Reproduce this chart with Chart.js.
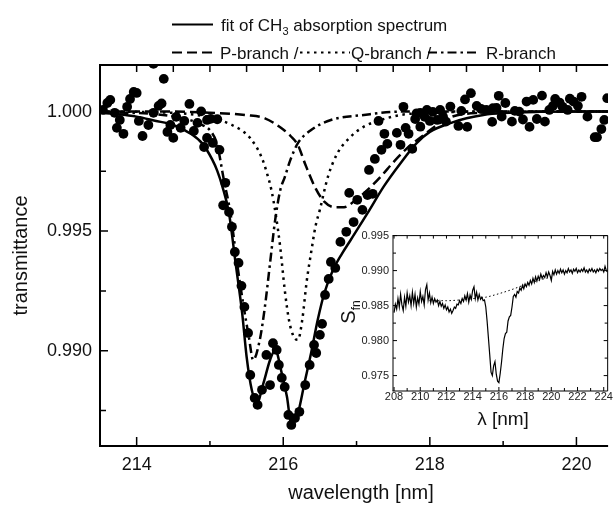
<!DOCTYPE html>
<html>
<head>
<meta charset="utf-8">
<title>CH3 absorption spectrum</title>
<script src="https://cdn.jsdelivr.net/npm/chart.js@4.4.0/dist/chart.umd.min.js"></script>
<style>
  html, body { margin: 0; padding: 0; background: #fff; }
  #wrap { position: relative; width: 613px; height: 505px; overflow: hidden; }
  #main { position: absolute; left: 0; top: 0; }
  #inset { position: absolute; left: 335px; top: 225px; }
</style>
</head>
<body>
<div id="wrap">
  <canvas id="main" width="613" height="505"></canvas>
  <canvas id="inset" width="278" height="205"></canvas>
</div>
<script>
const FONT = '"Liberation Sans", Arial, Helvetica, sans-serif';

// measured transmittance (dots)
const dotWl = [
  213.54, 213.60, 213.64, 213.70, 213.73, 213.77, 213.82, 213.87, 213.91, 213.96,
  214.00, 214.03, 214.08, 214.16, 214.23, 214.23, 214.30, 214.34, 214.37, 214.42,
  214.46, 214.50, 214.54, 214.60, 214.65, 214.72, 214.78, 214.83, 214.88, 214.92,
  214.96, 214.96, 215.01, 215.04, 215.10, 215.13, 215.18, 215.21, 215.26, 215.30,
  215.34, 215.39, 215.43, 215.47, 215.52, 215.55, 215.61, 215.65, 215.71, 215.77,
  215.82, 215.86, 215.91, 215.94, 215.98, 216.02, 216.07, 216.11, 216.16, 216.22,
  216.30, 216.36, 216.42, 216.45, 216.50, 216.53, 216.57, 216.62, 216.65, 216.71,
  216.78, 216.86, 216.90, 216.96, 217.01, 217.08, 217.15, 217.17, 217.22, 217.25,
  217.30, 217.34, 217.38, 217.42, 217.55, 217.60, 217.64, 217.67, 217.71, 217.76,
  217.80, 217.82, 217.87, 217.87, 217.93, 217.96, 218.00, 218.04, 218.10, 218.14,
  218.18, 218.22, 218.28, 218.39, 218.43, 218.48, 218.51, 218.56, 218.64, 218.70,
  218.77, 218.85, 218.86, 218.91, 218.94, 218.98, 219.03, 219.12, 219.16, 219.22,
  219.27, 219.32, 219.36, 219.41, 219.46, 219.53, 219.57, 219.63, 219.68, 219.71,
  219.77, 219.81, 219.88, 219.91, 219.96, 220.02, 220.07, 220.15, 220.25, 220.28,
  220.34, 220.38, 220.42
];
const dotT = [
  1.00007, 1.00036, 1.00049, 0.99995, 0.99932, 0.99965, 0.99907, 1.00020, 1.00053, 1.00082,
  1.00078, 0.99961, 0.99898, 0.99944, 1.00200, 0.99995, 1.00024, 1.00034, 1.00137, 0.99915,
  0.99944, 0.99890, 0.99978, 0.99932, 0.99961, 1.00032, 0.99919, 0.99953, 1.00001, 0.99852,
  0.99890, 0.99965, 0.99970, 0.99869, 0.99968, 0.99840, 0.99608, 0.99702, 0.99580, 0.99518,
  0.99413, 0.99367, 0.99271, 0.99183, 0.99074, 0.98898, 0.98802, 0.98773, 0.98836, 0.98982,
  0.98856, 0.99031, 0.99003, 0.98940, 0.98886, 0.98848, 0.98731, 0.98689, 0.98718, 0.98744,
  0.98856, 0.98940, 0.99024, 0.98990, 0.99066, 0.99112, 0.99233, 0.99300, 0.99371, 0.99346,
  0.99455, 0.99497, 0.99660, 0.99538, 0.99631, 0.99589, 0.99651, 0.99756, 0.99656, 0.99802,
  0.99961, 0.99840, 0.99907, 0.99865, 0.99911, 0.99861, 1.00020, 0.99932, 0.99907, 0.99844,
  0.99969, 0.99993, 0.99995, 0.99937, 0.99978, 1.00007, 0.99961, 0.99999, 0.99965, 1.00007,
  0.99979, 0.99958, 1.00021, 0.99940, 1.00003, 1.00051, 0.99936, 1.00077, 1.00024, 1.00011,
  1.00007, 0.99957, 1.00014, 1.00015, 1.00066, 0.99979, 1.00036, 0.99958, 1.00003, 1.00000,
  0.99967, 1.00042, 0.99936, 1.00049, 0.99969, 1.00067, 0.99958, 1.00007, 1.00024, 1.00053,
  1.00038, 1.00020, 1.00007, 1.00054, 1.00042, 1.00024, 1.00062, 0.99979, 0.99893, 0.99893,
  0.99927, 0.99965, 1.00056
];

// total fit
const fitWl = [
  213.5, 213.75, 214.0, 214.25, 214.5, 214.75, 214.9, 215.03, 215.1, 215.17,
  215.26, 215.35, 215.44, 215.5, 215.57, 215.64, 215.73, 215.82, 215.89, 215.98,
  216.05, 216.11, 216.2, 216.29, 216.38, 216.47, 216.56, 216.68, 216.8, 216.92,
  217.15, 217.37, 217.6, 217.82, 218.0, 218.27, 218.5, 218.73, 219.0, 219.5,
  220.0, 220.45
];
const fitT = [
  0.99995, 0.99989, 0.99979, 0.99962, 0.99944, 0.99905, 0.99865, 0.99800, 0.99752, 0.99686,
  0.99575, 0.99366, 0.99156, 0.98975, 0.98836, 0.98780, 0.98864, 0.98961, 0.99003, 0.98905,
  0.98808, 0.98696, 0.98738, 0.98865, 0.98990, 0.99128, 0.99240, 0.99338, 0.99405, 0.99463,
  0.99575, 0.99686, 0.99784, 0.99868, 0.99915, 0.99951, 0.99972, 0.99986, 0.99994, 0.99999,
  1.00000, 1.00000
];

// P-branch
const pWl = [213.5, 214.5, 215.0, 215.5, 215.75, 216.0, 216.1, 216.2, 216.3, 216.43,
  216.56, 216.7, 216.83, 216.99, 217.15, 217.33, 217.51, 217.69, 217.92, 218.27,
  218.7, 219.5, 220.45];
const pT = [1.0, 1.0, 0.99995, 0.99985, 0.99972, 0.99925, 0.99898, 0.99860, 0.99780, 0.99686,
  0.99623, 0.99600, 0.99600, 0.99631, 0.99672, 0.99728, 0.99791, 0.99847, 0.99903, 0.99975,
  0.99995, 1.0, 1.0];

// Q-branch
const qWl = [213.5, 214.5, 215.0, 215.3, 215.55, 215.71, 215.78, 215.84, 215.9, 215.96,
  216.02, 216.08, 216.14, 216.2, 216.26, 216.32, 216.38, 216.44, 216.5, 216.61,
  216.74, 216.92, 217.1, 217.33, 217.6, 218.0, 219.0, 220.45];
const qT = [1.0, 0.99995, 0.99975, 0.99944, 0.99889, 0.99805, 0.99740, 0.99670, 0.99565, 0.99430,
  0.99255, 0.99125, 0.99060, 0.99045, 0.99130, 0.99290, 0.99410, 0.99520, 0.99590, 0.99728,
  0.99826, 0.99895, 0.99937, 0.99965, 0.99986, 0.99995, 1.0, 1.0];

// R-branch
const rWl = [213.5, 214.5, 214.85, 215.03, 215.1, 215.19, 215.28, 215.37, 215.46, 215.53,
  215.59, 215.68, 215.75, 215.82, 215.89, 215.96, 216.02, 216.1, 216.2, 216.38,
  216.65, 217.1, 217.6, 220.45];
const rT = [1.0, 0.9998, 0.9995, 0.9991, 0.9986, 0.99714, 0.99575, 0.99366, 0.99184, 0.99059,
  0.98961, 0.99045, 0.99184, 0.99366, 0.99547, 0.99672, 0.99725, 0.99800, 0.99868, 0.99923,
  0.99965, 0.99986, 1.0, 1.0];

const mainXTicks = [214, 216, 218, 220];
const mainYTicks = [0.990, 0.995, 1.000];

// inset: raw S_fn spectrum
const insetWl = [
  208.0, 208.1, 208.2, 208.3, 208.4, 208.5, 208.6, 208.7, 208.8, 208.9,
  209.0, 209.1, 209.2, 209.3, 209.4, 209.5, 209.6, 209.7, 209.8, 209.9,
  210.0, 210.1, 210.2, 210.3, 210.4, 210.5, 210.6, 210.7, 210.8, 210.9,
  211.0, 211.1, 211.2, 211.3, 211.4, 211.5, 211.6, 211.7, 211.8, 211.9,
  212.0, 212.1, 212.2, 212.3, 212.4, 212.5, 212.6, 212.7, 212.8, 212.9,
  213.0, 213.1, 213.2, 213.3, 213.4, 213.5, 213.6, 213.7, 213.8, 213.9,
  214.0, 214.1, 214.2, 214.3, 214.4, 214.5, 214.6, 214.7, 214.8, 214.9,
  215.0, 215.1, 215.2, 215.3, 215.4, 215.5, 215.6, 215.7, 215.8, 215.9,
  216.0, 216.1, 216.2, 216.3, 216.4, 216.5, 216.6, 216.7, 216.8, 216.9,
  217.0, 217.1, 217.2, 217.3, 217.4, 217.5, 217.6, 217.7, 217.8, 217.9,
  218.0, 218.1, 218.2, 218.3, 218.4, 218.5, 218.6, 218.7, 218.8, 218.9,
  219.0, 219.1, 219.2, 219.3, 219.4, 219.5, 219.6, 219.7, 219.8, 219.9,
  220.0, 220.1, 220.2, 220.3, 220.4, 220.5, 220.6, 220.7, 220.8, 220.9,
  221.0, 221.1, 221.2, 221.3, 221.4, 221.5, 221.6, 221.7, 221.8, 221.9,
  222.0, 222.1, 222.2, 222.3, 222.4, 222.5, 222.6, 222.7, 222.8, 222.9,
  223.0, 223.1, 223.2, 223.3, 223.4, 223.5, 223.6, 223.7, 223.8, 223.9,
  224.0, 224.1, 224.2, 224.3
];
const insetS = [
  0.9840, 0.9852, 0.9845, 0.9860, 0.9848, 0.9866, 0.9851, 0.9843, 0.9862, 0.9849,
  0.9868, 0.9855, 0.9864, 0.9850, 0.9869, 0.9853, 0.9866, 0.9848, 0.9861, 0.9852,
  0.9870, 0.9856, 0.9863, 0.9851, 0.9873, 0.9880, 0.9858, 0.9868, 0.9854, 0.9862,
  0.9853, 0.9860, 0.9855, 0.9858, 0.9850, 0.9856, 0.9849, 0.9853, 0.9846, 0.9851,
  0.9844, 0.9848, 0.9841, 0.9845, 0.9839, 0.9843, 0.9848, 0.9846, 0.9852, 0.9851,
  0.9857, 0.9853, 0.9860, 0.9856, 0.9864, 0.9858, 0.9867, 0.9855, 0.9865, 0.9859,
  0.9872, 0.9877, 0.9860, 0.9869, 0.9858, 0.9866, 0.9859, 0.9862, 0.9857, 0.9858,
  0.9848, 0.9828, 0.9804, 0.9780, 0.9755, 0.9750, 0.9764, 0.9770, 0.9752, 0.9742,
  0.9740, 0.9753, 0.9769, 0.9788, 0.9803, 0.9810, 0.9812, 0.9828, 0.9834, 0.9836,
  0.9848, 0.9863, 0.9866, 0.9862, 0.9870, 0.9868, 0.9875, 0.9872, 0.9879, 0.9874,
  0.9881, 0.9877, 0.9883, 0.9879, 0.9886, 0.9881, 0.9889, 0.9883, 0.9891, 0.9885,
  0.9892, 0.9887, 0.9895, 0.9889, 0.9893, 0.9890, 0.9897, 0.9891, 0.9898, 0.9893,
  0.9886, 0.9899, 0.9894, 0.9901, 0.9895, 0.9900, 0.9896, 0.9902, 0.9897, 0.9901,
  0.9895, 0.9900, 0.9897, 0.9903, 0.9898, 0.9901, 0.9896, 0.9902, 0.9899, 0.9903,
  0.9897, 0.9901, 0.9898, 0.9902, 0.9899, 0.9904, 0.9898, 0.9901, 0.9897, 0.9902,
  0.9899, 0.9903, 0.9898, 0.9901, 0.9897, 0.9902, 0.9899, 0.9903, 0.9900, 0.9902,
  0.9898, 0.9906, 0.9900, 0.9898
];
// baseline under the absorption dip
const baseWl = [210.7, 212.0, 213.0, 214.0, 215.0, 216.0, 217.0, 218.0, 219.0, 220.0];
const baseS = [0.9857, 0.9857, 0.9858, 0.9860, 0.9862, 0.9867, 0.9873, 0.9880, 0.9886, 0.9891];

const insetXTicks = [208, 210, 212, 214, 216, 218, 220, 222, 224];
const insetYTicks = [0.975, 0.980, 0.985, 0.990, 0.995];

const pairs = (xs, ys) => xs.map((x, i) => ({ x, y: ys[i] }));

const range = (from, to, step) => {
  const out = [];
  for (let v = from; v <= to + step / 2; v += step) out.push(+v.toFixed(4));
  return out;
};

Chart.defaults.font.family = FONT;
Chart.defaults.color = '#000';

// inward ticks and the axis frame
const frameTicks = {
  id: 'frameTicks',
  beforeDraw(chart, args, o) {
    if (!o.fill) return;
    const { ctx, chartArea: a } = chart;
    ctx.save();
    ctx.fillStyle = o.fill;
    ctx.fillRect(a.left, a.top, a.right - a.left, a.bottom - a.top);
    ctx.restore();
  },
  afterDatasetsDraw(chart, args, o) {
    const { ctx, chartArea: a, scales: { x, y } } = chart;
    ctx.save();
    ctx.strokeStyle = '#000';
    ctx.setLineDash([]);
    ctx.lineWidth = o.tickWidth;
    ctx.beginPath();
    (o.bottom || []).forEach(([v, len]) => {
      const p = x.getPixelForValue(v);
      ctx.moveTo(p, a.bottom); ctx.lineTo(p, a.bottom - len);
    });
    (o.top || []).forEach(([v, len]) => {
      const p = x.getPixelForValue(v);
      ctx.moveTo(p, a.top); ctx.lineTo(p, a.top + len);
    });
    (o.left || []).forEach(([v, len]) => {
      const p = y.getPixelForValue(v);
      ctx.moveTo(a.left, p); ctx.lineTo(a.left + len, p);
    });
    (o.right || []).forEach(([v, len]) => {
      const p = y.getPixelForValue(v);
      ctx.moveTo(a.right, p); ctx.lineTo(a.right - len, p);
    });
    ctx.stroke();

    ctx.lineWidth = o.frameWidth;
    ctx.beginPath();
    if (o.sides.includes('left')) { ctx.moveTo(a.left, a.top); ctx.lineTo(a.left, a.bottom); }
    if (o.sides.includes('right')) { ctx.moveTo(a.right, a.top); ctx.lineTo(a.right, a.bottom); }
    if (o.sides.includes('top')) { ctx.moveTo(a.left - o.frameWidth / 2, a.top); ctx.lineTo(a.right, a.top); }
    if (o.sides.includes('bottom')) { ctx.moveTo(a.left - o.frameWidth / 2, a.bottom); ctx.lineTo(a.right, a.bottom); }
    ctx.stroke();
    ctx.restore();
  }
};

function drawText(ctx, str, x, y, size, align = 'left') {
  ctx.font = `${size}px ${FONT}`;
  ctx.textAlign = align;
  ctx.fillText(str, x, y);
  return ctx.measureText(str).width;
}

function sample(ctx, x1, x2, y, dash) {
  ctx.beginPath();
  ctx.setLineDash(dash);
  ctx.moveTo(x1, y);
  ctx.lineTo(x2, y);
  ctx.stroke();
}

const DASH_P = [10, 5];
const DASH_Q = [2.5, 4.5];
const DASH_R = [9, 4, 2.5, 4];

// legend and axis titles of the main plot
const mainLabels = {
  id: 'mainLabels',
  afterDraw(chart) {
    const { ctx, chartArea: a } = chart;
    ctx.save();
    ctx.fillStyle = '#111';
    ctx.strokeStyle = '#000';
    ctx.lineWidth = 2;
    ctx.textBaseline = 'alphabetic';

    sample(ctx, 172, 213, 24.5, []);
    let w = drawText(ctx, 'fit of CH', 221, 31, 17);
    w += drawText(ctx, '3', 221 + w, 35, 11);
    drawText(ctx, ' absorption spectrum', 221 + w, 31, 17);

    sample(ctx, 172, 217, 52.5, DASH_P);
    drawText(ctx, 'P-branch /', 220, 58.5, 17);
    sample(ctx, 300, 350, 52.5, DASH_Q);
    drawText(ctx, 'Q-branch /', 351, 58.5, 17);
    sample(ctx, 428, 479, 52.5, DASH_R);
    drawText(ctx, 'R-branch', 486, 58.5, 17);

    drawText(ctx, 'wavelength [nm]', 361, 499, 20, 'center');

    ctx.translate(27, (a.top + a.bottom) / 2);
    ctx.rotate(-Math.PI / 2);
    drawText(ctx, 'transmittance', 0, 0, 20, 'center');
    ctx.restore();
  }
};

const insetLabels = {
  id: 'insetLabels',
  afterDraw(chart) {
    const { ctx } = chart;
    ctx.save();
    ctx.fillStyle = '#111';
    ctx.textBaseline = 'alphabetic';
    drawText(ctx, 'λ [nm]', 168, 200, 19, 'center');

    ctx.translate(20, 87);
    ctx.rotate(-Math.PI / 2);
    ctx.font = `20px ${FONT}`;
    const wS = ctx.measureText('S').width;
    ctx.font = `12px ${FONT}`;
    const wF = ctx.measureText('fn').width;
    const x0 = -(wS + wF) / 2;
    drawText(ctx, 'S', x0, 0, 20);
    drawText(ctx, 'fn', x0 + wS, 5, 12);
    ctx.restore();
  }
};

const lineSet = (data, dash, width) => ({
  data,
  showLine: true,
  borderColor: '#000',
  borderWidth: width,
  borderDash: dash,
  pointRadius: 0,
  cubicInterpolationMode: 'monotone',
  fill: false
});

new Chart(document.getElementById('main'), {
  type: 'line',
  data: {
    datasets: [
      {
        data: pairs(dotWl, dotT),
        showLine: false,
        pointRadius: 4.9,
        pointBackgroundColor: '#000',
        pointBorderWidth: 0
      },
      lineSet(pairs(fitWl, fitT), [], 2.5),
      lineSet(pairs(pWl, pT), DASH_P, 2.5),
      lineSet(pairs(qWl, qT), DASH_Q, 2.5),
      lineSet(pairs(rWl, rT), DASH_R, 2.5)
    ]
  },
  options: {
    responsive: false,
    animation: false,
    devicePixelRatio: 1,
    events: [],
    layout: { padding: { top: 65, right: 0, left: 0, bottom: 0 } },
    plugins: {
      legend: { display: false },
      tooltip: { enabled: false },
      frameTicks: {
        tickWidth: 1.5,
        frameWidth: 2,
        sides: ['left', 'top', 'bottom'],
        bottom: range(214, 220, 1).map(v => [v, v % 2 === 0 ? 9 : 5]),
        top: range(214, 220, 0.5).map(v => [v, 7]),
        left: range(0.9875, 1.0, 0.0025).map(v => [v, mainYTicks.some(t => Math.abs(t - v) < 1e-6) ? 8 : 6])
      }
    },
    scales: {
      x: {
        type: 'linear',
        min: 213.5,
        max: 220.432,
        afterFit(s) { s.height = 59; },
        afterBuildTicks(s) { s.ticks = mainXTicks.map(v => ({ value: v })); },
        grid: { display: false, drawTicks: false },
        border: { display: false },
        ticks: { font: { size: 18 }, color: '#111', padding: 8, autoSkip: false, maxRotation: 0, callback: v => String(v) }
      },
      y: {
        type: 'linear',
        min: 0.98601,
        max: 1.00195,
        afterFit(s) { s.width = 100; },
        afterBuildTicks(s) { s.ticks = mainYTicks.map(v => ({ value: v })); },
        grid: { display: false, drawTicks: false },
        border: { display: false },
        ticks: { font: { size: 18 }, color: '#111', padding: 8, autoSkip: false, callback: v => v.toFixed(3) }
      }
    }
  },
  plugins: [frameTicks, mainLabels]
});

new Chart(document.getElementById('inset'), {
  type: 'line',
  data: {
    datasets: [
      {
        data: pairs(insetWl, insetS),
        borderColor: '#000',
        borderWidth: 1.2,
        pointRadius: 0,
        tension: 0,
        fill: false
      },
      {
        data: pairs(baseWl, baseS),
        borderColor: '#000',
        borderWidth: 1,
        borderDash: [1.5, 2.5],
        pointRadius: 0,
        cubicInterpolationMode: 'monotone',
        fill: false
      }
    ]
  },
  options: {
    responsive: false,
    animation: false,
    devicePixelRatio: 1,
    events: [],
    layout: { padding: { top: 7, right: 5, left: 0, bottom: 0 } },
    plugins: {
      legend: { display: false },
      tooltip: { enabled: false },
      frameTicks: {
        fill: '#fff',
        tickWidth: 1,
        frameWidth: 1,
        sides: ['left', 'right', 'top', 'bottom'],
        bottom: range(208, 224, 1).map(v => [v, v % 2 === 0 ? 4 : 3]),
        top: range(208, 224, 1).map(v => [v, 3]),
        left: range(0.975, 0.995, 0.0025).map(v => [v, insetYTicks.some(t => Math.abs(t - v) < 1e-6) ? 4 : 3]),
        right: range(0.975, 0.995, 0.0025).map(v => [v, insetYTicks.some(t => Math.abs(t - v) < 1e-6) ? 4 : 3])
      }
    },
    scales: {
      x: {
        type: 'linear',
        min: 207.92,
        max: 224.3,
        afterFit(s) { s.height = 39; },
        afterBuildTicks(s) { s.ticks = insetXTicks.map(v => ({ value: v })); },
        grid: { display: false, drawTicks: false },
        border: { display: false },
        ticks: { font: { size: 11, lineHeight: 1 }, color: '#222', padding: 0, autoSkip: false, maxRotation: 0, callback: v => String(v) }
      },
      y: {
        type: 'linear',
        min: 0.9728,
        max: 0.995,
        afterFit(s) { s.width = 58; },
        afterBuildTicks(s) { s.ticks = insetYTicks.map(v => ({ value: v })); },
        grid: { display: false, drawTicks: false },
        border: { display: false },
        ticks: { font: { size: 11 }, color: '#222', padding: 4, autoSkip: false, callback: v => v.toFixed(3) }
      }
    }
  },
  plugins: [frameTicks, insetLabels]
});
</script>
</body>
</html>
